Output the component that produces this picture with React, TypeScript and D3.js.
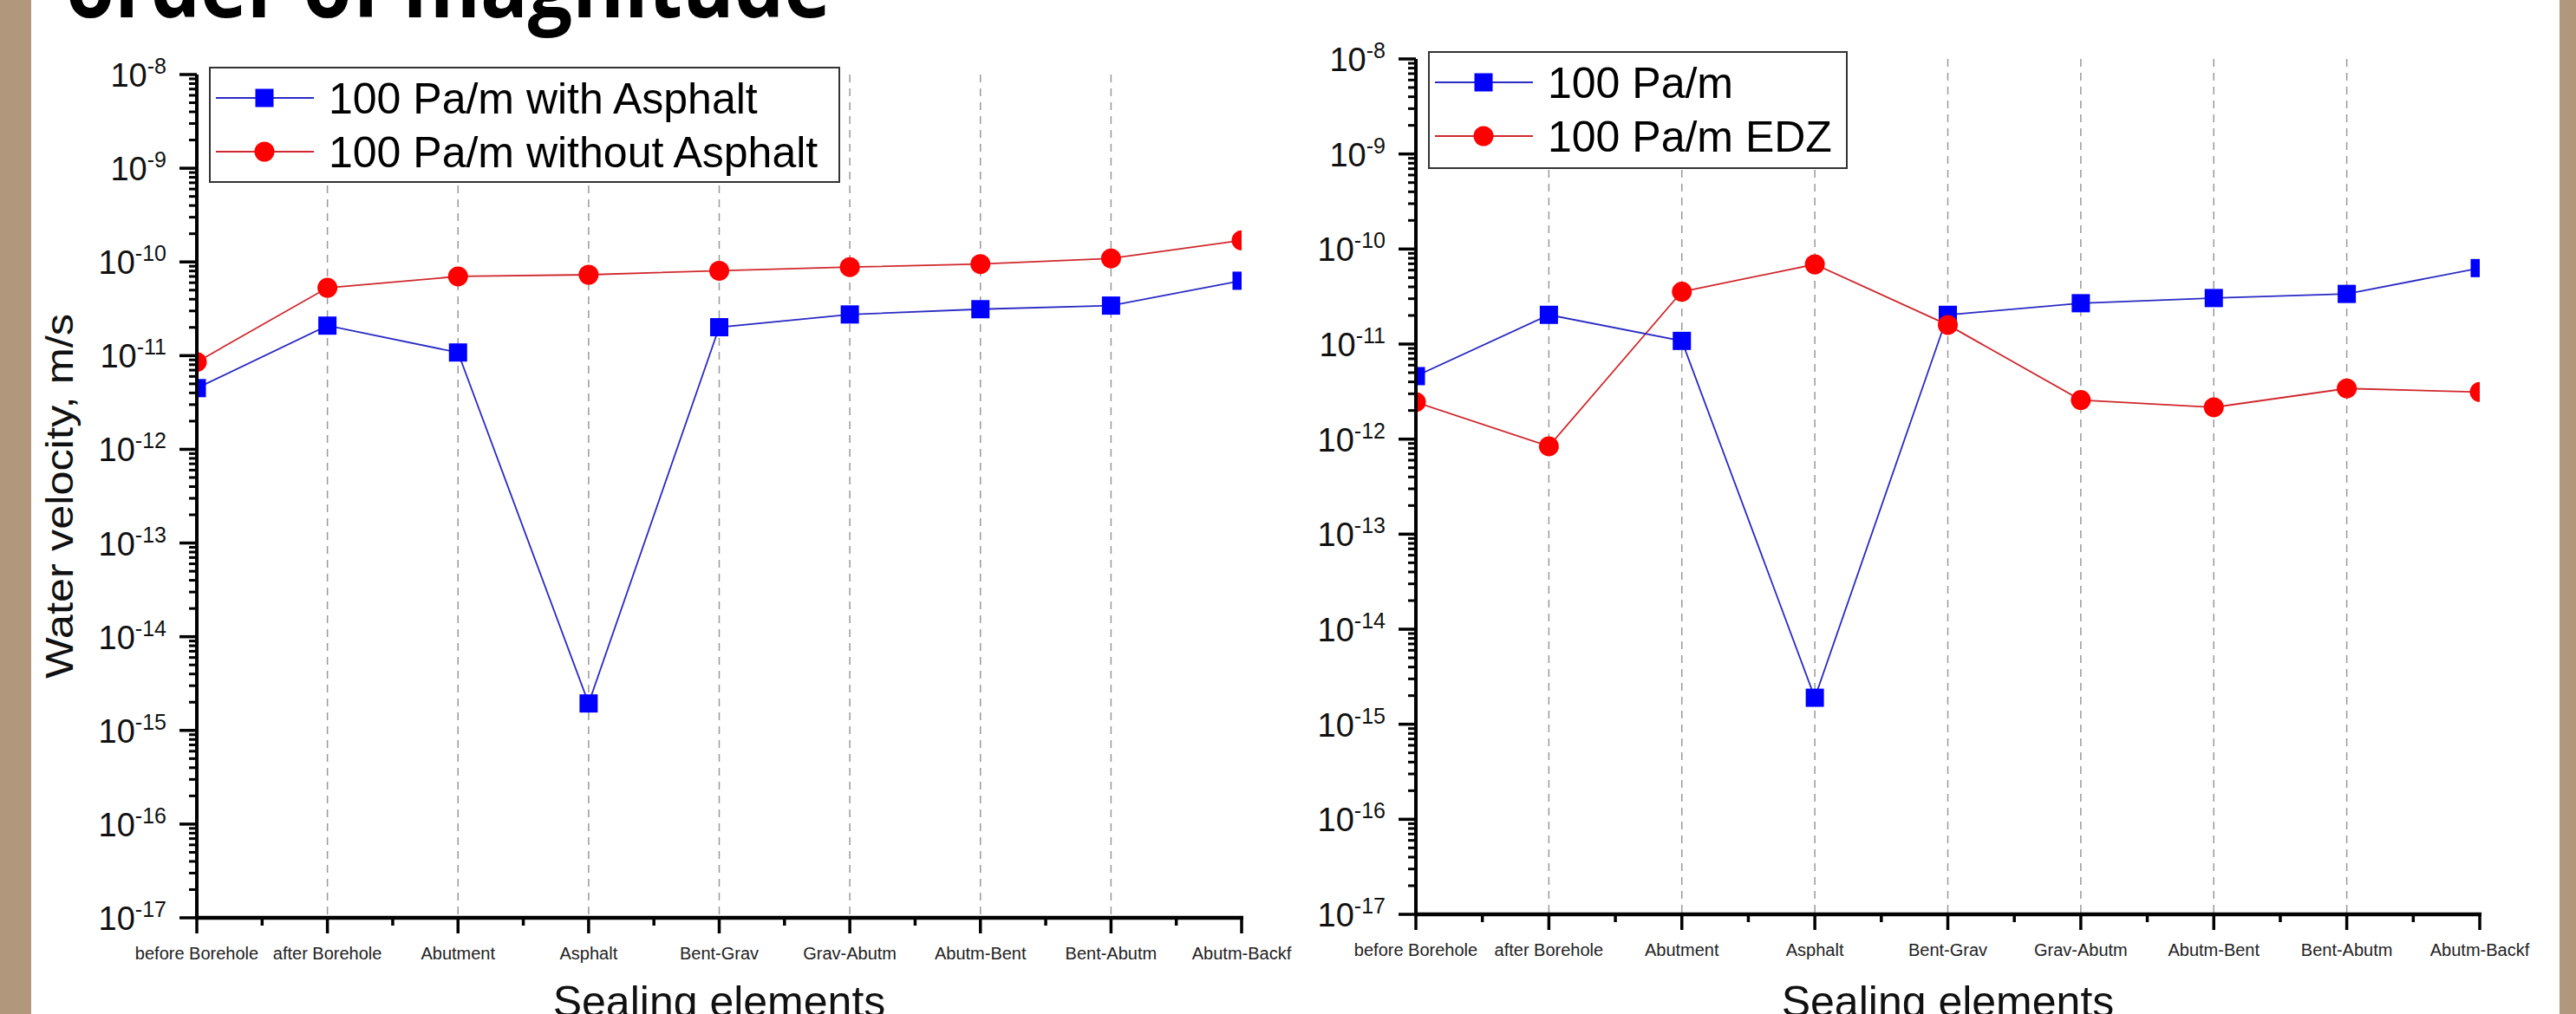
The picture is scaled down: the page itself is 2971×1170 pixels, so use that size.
import React from "react";
import * as d3 from "d3";

// categories along the x axis (same for both panels)
const categories = [
  "before Borehole",
  "after Borehole",
  "Abutment",
  "Asphalt",
  "Bent-Grav",
  "Grav-Abutm",
  "Abutm-Bent",
  "Bent-Abutm",
  "Abutm-Backf",
];

// left panel: water velocity, m/s
const withAsphalt = [4.5e-12, 2.09e-11, 1.08e-11, 1.94e-15, 2.01e-11, 2.75e-11, 3.13e-11, 3.42e-11, 6.3e-11];
const withoutAsphalt = [8.55e-12, 5.3e-11, 7.0e-11, 7.3e-11, 8.05e-11, 8.8e-11, 9.5e-11, 1.09e-10, 1.7e-10];

// right panel
const base100 = [4.6e-12, 2.03e-11, 1.08e-11, 1.9e-15, 2.03e-11, 2.69e-11, 3.05e-11, 3.37e-11, 6.3e-11];
const edz100 = [2.45e-12, 8.4e-13, 3.56e-11, 6.9e-11, 1.59e-11, 2.58e-12, 2.16e-12, 3.41e-12, 3.13e-12];

const leftLegend = ["100 Pa/m with Asphalt", "100 Pa/m without Asphalt"];
const rightLegend = ["100 Pa/m", "100 Pa/m EDZ"];

const exponents = [-8, -9, -10, -11, -12, -13, -14, -15, -16, -17];

const FONT = "'Liberation Sans', Arial, sans-serif";
const BLUE = "#0000ff";
const RED = "#ff0000";
const BLUE_LINE = "#2a2ac4";
const RED_LINE = "#d0282e";

type PanelProps = {
  id: string;
  x0: number;
  x1: number;
  yTop: number;
  yBot: number;
  blue: number[];
  red: number[];
  legend: string[];
  box: { x: number; y: number; w: number; h: number };
  yTitle?: string;
};

function Panel({ id, x0, x1, yTop, yBot, blue, red, legend, box, yTitle }: PanelProps) {
  const x = d3.scalePoint<string>().domain(categories).range([x0, x1]);
  const y = d3.scaleLog().domain([1e-17, 1e-8]).range([yBot, yTop]);

  const minor = d3.range(-17, -8).flatMap((k) => d3.range(2, 10).map((m) => m * Math.pow(10, k)));
  const step = x.step();

  const line = d3
    .line<number>()
    .x((_, i) => x(categories[i]) as number)
    .y((d) => y(d));

  const sq = 21;
  const r = 11.5;

  return (
    <g>
      <defs>
        <clipPath id={`clip-${id}`}>
          <rect x={x0} y={yTop - 30} width={x1 - x0} height={yBot - yTop + 30} />
        </clipPath>
      </defs>

      {/* dashed vertical grid */}
      {categories.slice(1, -1).map((c) => (
        <line
          key={c}
          x1={x(c)}
          x2={x(c)}
          y1={yTop}
          y2={yBot}
          stroke="#9a9a9a"
          strokeWidth={1.5}
          strokeDasharray="9,7"
        />
      ))}

      {/* series */}
      <g clipPath={`url(#clip-${id})`}>
        <path d={line(red) || ""} fill="none" stroke={RED_LINE} strokeWidth={1.8} />
        <path d={line(blue) || ""} fill="none" stroke={BLUE_LINE} strokeWidth={1.8} />
        {blue.map((v, i) => (
          <rect
            key={"b" + i}
            x={(x(categories[i]) as number) - sq / 2}
            y={y(v) - sq / 2}
            width={sq}
            height={sq}
            fill={BLUE}
          />
        ))}
        {red.map((v, i) => (
          <circle key={"r" + i} cx={x(categories[i])} cy={y(v)} r={r} fill={RED} />
        ))}
      </g>

      {/* y axis */}
      <line x1={x0} x2={x0} y1={yTop} y2={yBot + 2} stroke="#000" strokeWidth={4} />
      {minor.map((v, i) => (
        <line key={i} x1={x0 - 9} x2={x0} y1={y(v)} y2={y(v)} stroke="#000" strokeWidth={3} />
      ))}
      {exponents.map((e) => (
        <g key={e}>
          <line x1={x0 - 20} x2={x0} y1={y(Math.pow(10, e))} y2={y(Math.pow(10, e))} stroke="#000" strokeWidth={3.5} />
          <text x={x0 - 35} y={y(Math.pow(10, e)) + 14} textAnchor="end" fontFamily={FONT} fontSize={38} fill="#111">
            10
            <tspan dy={-15} fontSize={25}>
              {String(e)}
            </tspan>
          </text>
        </g>
      ))}

      {/* x axis */}
      <line x1={x0 - 2} x2={x1 + 2} y1={yBot} y2={yBot} stroke="#000" strokeWidth={4.5} />
      {categories.map((c) => (
        <line key={c} x1={x(c)} x2={x(c)} y1={yBot} y2={yBot + 18} stroke="#000" strokeWidth={3.5} />
      ))}
      {categories.slice(1).map((c) => (
        <line
          key={"m" + c}
          x1={(x(c) as number) - step / 2}
          x2={(x(c) as number) - step / 2}
          y1={yBot}
          y2={yBot + 9}
          stroke="#000"
          strokeWidth={3.5}
        />
      ))}
      {categories.map((c) => (
        <text key={"t" + c} x={x(c)} y={yBot + 48} textAnchor="middle" fontFamily={FONT} fontSize={20} fill="#222">
          {c}
        </text>
      ))}
      <text x={(x0 + x1) / 2} y={1173} textAnchor="middle" fontFamily={FONT} fontSize={50} fill="#111">
        Sealing elements
      </text>

      {yTitle && (
        <text
          transform={`translate(84, ${(yTop + yBot) / 2}) rotate(-90)`}
          textAnchor="middle"
          fontFamily={FONT}
          fontSize={44}
          textLength={421}
          lengthAdjust="spacingAndGlyphs"
          fill="#111"
        >
          {yTitle}
        </text>
      )}

      {/* legend */}
      <rect x={box.x} y={box.y} width={box.w} height={box.h} fill="#fff" stroke="#333" strokeWidth={2} />
      {legend.map((label, i) => {
        const ry = box.y + (i === 0 ? 35 : 97);
        const mx = box.x + 63;
        return (
          <g key={label}>
            <line x1={box.x + 7} x2={box.x + 120} y1={ry} y2={ry} stroke={i === 0 ? BLUE_LINE : RED_LINE} strokeWidth={1.8} />
            {i === 0 ? (
              <rect x={mx - sq / 2} y={ry - sq / 2} width={sq} height={sq} fill={BLUE} />
            ) : (
              <circle cx={mx} cy={ry} r={r} fill={RED} />
            )}
            <text x={box.x + 137} y={ry + 18} fontFamily={FONT} fontSize={50} fill="#000">
              {label}
            </text>
          </g>
        );
      })}
    </g>
  );
}

export default function App() {
  const W = 2971;
  const H = 1170;
  return (
    <svg
      width={W}
      height={H}
      viewBox={`0 0 ${W} ${H}`}
      style={{ position: "absolute", left: 0, top: 0, background: "#fff" }}
    >
      <rect x={0} y={0} width={W} height={H} fill="#fff" />
      <rect x={0} y={0} width={36} height={H} fill="#b1987d" />
      <rect x={2952} y={0} width={W - 2952} height={H} fill="#b1987d" />

      <text
        x={76}
        y={20}
        fontFamily="'Open Sans', sans-serif"
        fontWeight={700}
        fontSize={100}
        textLength={882}
        lengthAdjust="spacingAndGlyphs"
        fill="#000"
      >
        order of magnitude
      </text>

      <Panel
        id="left"
        x0={227}
        x1={1432}
        yTop={86}
        yBot={1059}
        blue={withAsphalt}
        red={withoutAsphalt}
        legend={leftLegend}
        box={{ x: 242, y: 78, w: 726, h: 132 }}
        yTitle="Water velocity, m/s"
      />
      <Panel
        id="right"
        x0={1633}
        x1={2860}
        yTop={68}
        yBot={1055}
        blue={base100}
        red={edz100}
        legend={rightLegend}
        box={{ x: 1648, y: 60, w: 482, h: 134 }}
      />
    </svg>
  );
}
